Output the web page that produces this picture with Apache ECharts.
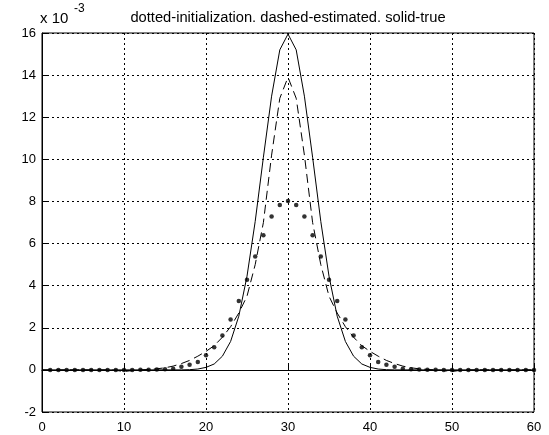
<!DOCTYPE html>
<html>
<head>
<meta charset="utf-8">
<script src="https://cdn.jsdelivr.net/npm/echarts@6/dist/echarts.min.js"></script>
<style>
  html, body { margin: 0; padding: 0; background: #fff; }
  #chart { width: 549px; height: 435px; }
</style>
</head>
<body>
<div id="chart"></div>
<script>
// x positions of the curves (0..60) and of the dots (1..60)
var xLine = [0,1,2,3,4,5,6,7,8,9,10,11,12,13,14,15,16,17,18,19,20,21,22,23,24,25,26,27,28,29,30,
             31,32,33,34,35,36,37,38,39,40,41,42,43,44,45,46,47,48,49,50,51,52,53,54,55,56,57,58,59,60];
var xDots = xLine.slice(1);

// values in units of 10^-3
var trueVals = [0,0,0,0,0,0,0,0,0,0,0,0,0,0,0,0,0,0,0.01,0.04,0.12,0.28,0.65,1.35,2.55,4.45,7.05,10.1,13.0,15.2,15.95,
                15.2,13.0,10.1,7.05,4.45,2.55,1.35,0.65,0.28,0.12,0.04,0.01,0,0,0,0,0,0,0,0,0,0,0,0,0,0,0,0,0,0];
var estVals = [0,0,0,0,0,0,0,0,0,-0.02,-0.08,-0.03,0,0.02,0.05,0.1,0.18,0.3,0.45,0.65,0.88,1.15,1.55,2.05,2.7,3.5,5.0,7.0,10.2,12.9,13.9,
               12.9,10.2,7.0,5.0,3.5,2.7,2.05,1.55,1.15,0.88,0.65,0.45,0.3,0.18,0.1,0.05,0.02,0,-0.03,-0.08,-0.02,0,0,0,0,0,0,0,0,0];
var initVals = [0,0,0,0,0,0,0,0,0,0,0,0.01,0.01,0.02,0.03,0.05,0.15,0.24,0.38,0.69,1.07,1.63,2.39,3.27,4.28,5.39,6.4,7.29,7.83,8.02,
                7.83,7.29,6.4,5.39,4.28,3.27,2.39,1.63,1.07,0.69,0.38,0.24,0.15,0.05,0.03,0.02,0.01,0.01,0,0,0,0,0,0,0,0,0,0,0,0];

var titleText = 'dotted-initialization. dashed-estimated. solid-true';

function pairs(xs, ys) {
  return xs.map(function (x, i) { return [x, ys[i]]; });
}

var font = 'Liberation Sans, Arial, sans-serif';
var myChart = echarts.init(document.getElementById('chart'), null, { renderer: 'canvas' });

myChart.setOption({
  animation: false,
  backgroundColor: '#fff',
  textStyle: { fontFamily: font, color: '#000' },
  grid: {
    left: 42, top: 33, width: 492, height: 379,
    show: true, borderColor: '#000', borderWidth: 1, backgroundColor: 'transparent'
  },
  graphic: [
    {
      type: 'text', x: 288, y: 18,
      style: { text: titleText, fontSize: 14.7, fontFamily: font, fill: '#000', textAlign: 'center', textVerticalAlign: 'middle' }
    },
    {
      type: 'text', x: 40, y: 19,
      style: { text: 'x 10', fontSize: 15, fontFamily: font, fill: '#000', textVerticalAlign: 'middle' }
    },
    {
      type: 'text', x: 74, y: 9,
      style: { text: '-3', fontSize: 12, fontFamily: font, fill: '#000', textVerticalAlign: 'middle' }
    }
  ],
  xAxis: {
    type: 'value', min: 0, max: 60, interval: 10,
    axisLine: { show: true, lineStyle: { color: '#000', width: 1 } },
    axisTick: { show: true, inside: true, length: 5, lineStyle: { color: '#000' } },
    axisLabel: { color: '#000', fontSize: 13, fontFamily: font, margin: 9 },
    splitLine: { show: true, lineStyle: { color: '#000', type: [2, 3], width: 1 } }
  },
  yAxis: {
    type: 'value', min: -2, max: 16, interval: 2,
    axisLine: { show: true, lineStyle: { color: '#000', width: 1 } },
    axisTick: { show: true, inside: true, length: 5, lineStyle: { color: '#000' } },
    axisLabel: { color: '#000', fontSize: 13, fontFamily: font, margin: 6 },
    splitLine: { show: true, lineStyle: { color: '#000', type: [2, 3], width: 1 } }
  },
  series: [
    {
      name: 'solid-true', type: 'line', data: pairs(xLine, trueVals),
      showSymbol: false, lineStyle: { color: '#000', width: 1 }
    },
    {
      name: 'dashed-estimated', type: 'line', data: pairs(xLine, estVals),
      showSymbol: false, lineStyle: { color: '#000', width: 1, type: [9, 5] }
    },
    {
      name: 'dotted-initialization', type: 'scatter', data: pairs(xDots, initVals),
      symbol: 'circle', symbolSize: 4.5, itemStyle: { color: '#000' }
    }
  ]
});
</script>
</body>
</html>
